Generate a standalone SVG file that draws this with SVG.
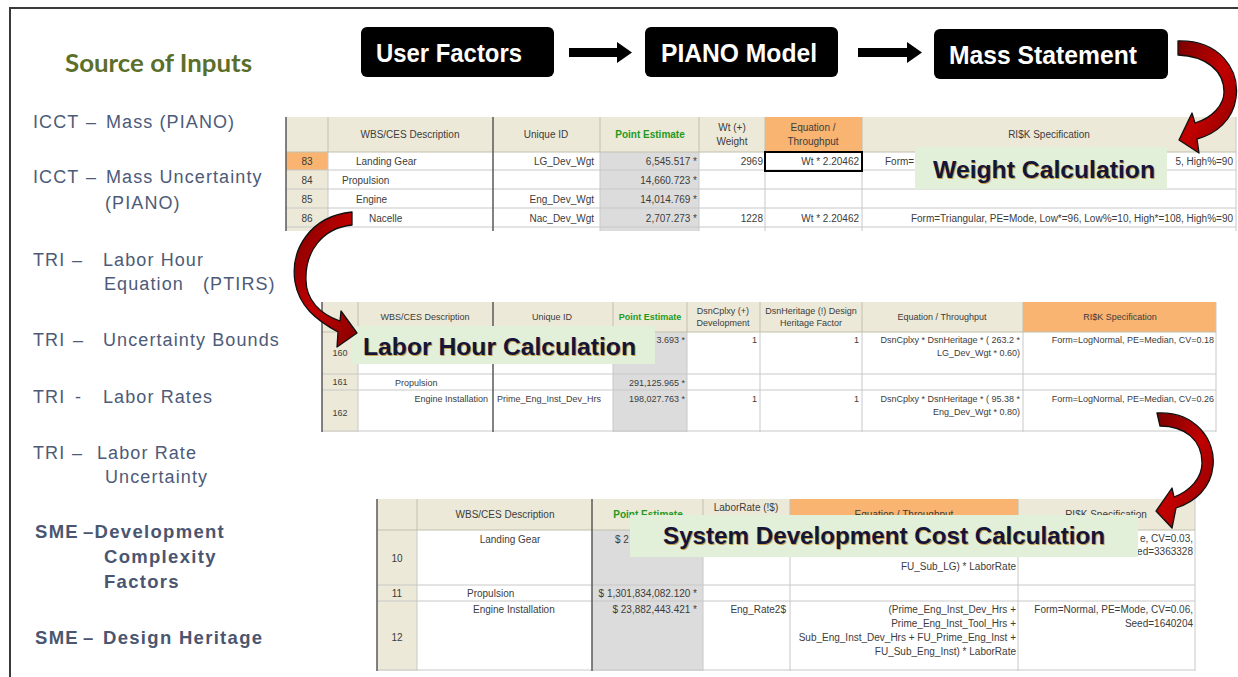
<svg xmlns="http://www.w3.org/2000/svg" width="1238" height="677" viewBox="0 0 1238 677">
  <defs>
    <linearGradient id="redFill" x1="0" y1="0" x2="1" y2="1">
      <stop offset="0" stop-color="#7a0000"/>
      <stop offset="0.5" stop-color="#c20000"/>
      <stop offset="1" stop-color="#860000"/>
    </linearGradient>
    <style>
      .frame { fill: none; stroke: #3a3a3a; stroke-width: 2; }
      .title { font-family: Lato, "Liberation Sans", sans-serif; font-weight: bold; font-size: 24px; fill: #5b6f2a; }
      .src { font-family: "Liberation Sans", Arial, sans-serif; font-size: 18px; fill: #4d5b78; letter-spacing: 1.1px; }
      .srcb { font-family: "Liberation Sans", Arial, sans-serif; font-size: 18.5px; font-weight: bold; fill: #4a5670; letter-spacing: 1.3px; }
      .box { fill: #000; }
      .boxtxt { font-family: "Liberation Sans", Arial, sans-serif; font-weight: bold; font-size: 25px; fill: #fff; }
      .blk { fill: #000; }
      .curve { fill: url(#redFill); stroke: #111; stroke-width: 1.3; stroke-linejoin: round; }
      .hdr { fill: #ece9d8; }
      .org { fill: #f8b470; }
      .cell { fill: #fff; }
      .pe { fill: #dcdcdc; }
      .grid { stroke: #c8c8c8; stroke-width: 1; fill: none; }
      .hgrid { stroke: #c2bfae; stroke-width: 1; fill: none; }
      .dark { stroke: #5a5a5a; stroke-width: 1.5; fill: none; }
      .t10 { font-family: "Liberation Sans", Arial, sans-serif; font-size: 10px; fill: #3c3c3c; }
      .t9 { font-family: "Liberation Sans", Arial, sans-serif; font-size: 9px; fill: #3c3c3c; }
      .grn { fill: #1f9a1f; font-weight: bold; }
      .mid { text-anchor: middle; }
      .end { text-anchor: end; }
      .lbl { fill: #e2efd9; }
      .lbltxt { font-family: "Liberation Sans", Arial, sans-serif; font-weight: bold; font-size: 24px; fill: #15153a; }
      .lblsh { font-family: "Liberation Sans", Arial, sans-serif; font-weight: bold; font-size: 24px; fill: #c9a24a; }
    </style>
  </defs>

  <rect width="1238" height="677" fill="#fff"/>
  <!-- slide frame -->
  <path class="frame" d="M10,677 V8 H1238"/>

  <!-- input source list -->
  <g id="sources">
    <text class="title" x="65" y="72" textLength="187" lengthAdjust="spacingAndGlyphs">Source of Inputs</text>
    <text class="src" y="128"><tspan x="33">ICCT</tspan><tspan x="86">–</tspan><tspan x="106">Mass (PIANO)</tspan></text>
    <text class="src" y="183"><tspan x="33">ICCT</tspan><tspan x="86">–</tspan><tspan x="106">Mass Uncertainty</tspan></text>
    <text class="src" x="105" y="209">(PIANO)</text>
    <text class="src" y="266"><tspan x="33">TRI</tspan><tspan x="72">–</tspan><tspan x="103">Labor Hour</tspan></text>
    <text class="src" y="290"><tspan x="104">Equation</tspan><tspan x="203">(PTIRS)</tspan></text>
    <text class="src" y="346"><tspan x="33">TRI</tspan><tspan x="73">–</tspan><tspan x="103">Uncertainty Bounds</tspan></text>
    <text class="src" y="403"><tspan x="33">TRI</tspan><tspan x="75">-</tspan><tspan x="103">Labor Rates</tspan></text>
    <text class="src" y="459"><tspan x="33">TRI</tspan><tspan x="72">–</tspan><tspan x="97">Labor Rate</tspan></text>
    <text class="src" x="105" y="483">Uncertainty</text>
    <text class="srcb" y="538"><tspan x="35">SME</tspan><tspan x="83">–Development</tspan></text>
    <text class="srcb" x="104" y="563">Complexity</text>
    <text class="srcb" x="104" y="588">Factors</text>
    <text class="srcb" y="644"><tspan x="35">SME</tspan><tspan x="83">–</tspan><tspan x="103">Design Heritage</tspan></text>
  </g>

  <!-- process boxes -->
  <g id="user-factors">
    <rect class="box" x="361" y="27" width="193" height="50" rx="6"/>
    <text class="boxtxt" x="376" y="62" textLength="146" lengthAdjust="spacingAndGlyphs">User Factors</text>
  </g>
  <g id="piano-model">
    <rect class="box" x="645" y="27" width="193" height="50" rx="6"/>
    <text class="boxtxt" x="661" y="62" textLength="156" lengthAdjust="spacingAndGlyphs">PIANO Model</text>
  </g>
  <g id="mass-statement">
    <rect class="box" x="934" y="29" width="234" height="50" rx="6"/>
    <text class="boxtxt" x="949" y="64" textLength="188" lengthAdjust="spacingAndGlyphs">Mass Statement</text>
  </g>

  <!-- weight table -->
  <g id="weight-table">
    <rect class="hdr" x="286" y="117" width="950" height="35"/>
    <rect class="org" x="765" y="117" width="97" height="35"/>
    <rect class="cell" x="328" y="152" width="908" height="79"/>
    <rect class="hdr" x="286" y="152" width="42" height="79"/>
    <rect class="org" x="286" y="152" width="42" height="18"/>
    <rect class="pe" x="600" y="152" width="99" height="79"/>
    <path class="grid" d="M286,170 H1236 M286,189 H1236 M286,208 H1236 M286,227 H1236 M600,152 V231 M699,152 V231 M765,152 V231 M862,152 V231 M328,152 V231 M1236,117 V231"/>
    <path class="hgrid" d="M286,152 H1236 M328,117 V152 M600,117 V152 M699,117 V152 M765,117 V152 M862,117 V152"/>
    <path class="dark" d="M286,117 V231 M493,117 V231"/>
    <rect x="765" y="152" width="97" height="19" fill="none" stroke="#000" stroke-width="2"/>
    <text class="t10 mid" x="410" y="138">WBS/CES Description</text>
    <text class="t10 mid" x="546" y="138">Unique ID</text>
    <text class="t10 mid grn" x="650" y="138">Point Estimate</text>
    <text class="t10 mid" x="732" y="131">Wt (+)</text>
    <text class="t10 mid" x="732" y="145">Weight</text>
    <text class="t10 mid" x="813" y="131">Equation /</text>
    <text class="t10 mid" x="813" y="145">Throughput</text>
    <text class="t10 mid" x="1049" y="138">RI$K Specification</text>
    <text class="t10 mid" x="307" y="165">83</text>
    <text class="t10 mid" x="307" y="184">84</text>
    <text class="t10 mid" x="307" y="203">85</text>
    <text class="t10 mid" x="307" y="222">86</text>
    <text class="t10" x="356" y="165">Landing Gear</text>
    <text class="t10" x="342" y="184">Propulsion</text>
    <text class="t10" x="356" y="203">Engine</text>
    <text class="t10" x="369" y="222">Nacelle</text>
    <text class="t10 end" x="594" y="165">LG_Dev_Wgt</text>
    <text class="t10 end" x="594" y="203">Eng_Dev_Wgt</text>
    <text class="t10 end" x="594" y="222">Nac_Dev_Wgt</text>
    <text class="t10 end" x="697" y="165">6,545.517 *</text>
    <text class="t10 end" x="697" y="184">14,660.723 *</text>
    <text class="t10 end" x="697" y="203">14,014.769 *</text>
    <text class="t10 end" x="697" y="222">2,707.273 *</text>
    <text class="t10 end" x="763" y="165">2969</text>
    <text class="t10 end" x="763" y="222">1228</text>
    <text class="t10 end" x="859" y="165">Wt * 2.20462</text>
    <text class="t10 end" x="859" y="222">Wt * 2.20462</text>
    <text class="t10" x="885" y="165">Form=</text>
    <text class="t10 end" x="1233" y="165">5, High%=90</text>
    <text class="t10 end" x="1233" y="222">Form=Triangular, PE=Mode, Low*=96, Low%=10, High*=108, High%=90</text>
  </g>

  <!-- labor hour table -->
  <g id="labor-hour-table">
    <rect class="hdr" x="322" y="302" width="894" height="30"/>
    <rect class="org" x="1023" y="302" width="193" height="30"/>
    <rect class="cell" x="358" y="332" width="858" height="100"/>
    <rect class="hdr" x="322" y="332" width="36" height="100"/>
    <rect class="pe" x="613" y="332" width="74" height="100"/>
    <path class="grid" d="M322,374 H1216 M322,390 H1216 M322,431 H1216 M358,332 V432 M613,332 V432 M687,332 V432 M760,332 V432 M862,332 V432 M1023,332 V432 M1216,302 V432"/>
    <path class="hgrid" d="M322,332 H1216 M358,302 V332 M613,302 V332 M687,302 V332 M760,302 V332 M862,302 V332 M1023,302 V332"/>
    <path class="dark" d="M322,302 V432 M493,302 V432"/>
    <text class="t9 mid" x="425" y="320">WBS/CES Description</text>
    <text class="t9 mid" x="552" y="320">Unique ID</text>
    <text class="t9 mid grn" x="650" y="320">Point Estimate</text>
    <text class="t9 mid" x="723" y="314">DsnCplxy (+)</text>
    <text class="t9 mid" x="723" y="326">Development</text>
    <text class="t9 mid" x="811" y="314">DsnHeritage (!) Design</text>
    <text class="t9 mid" x="811" y="326">Heritage Factor</text>
    <text class="t9 mid" x="942" y="320">Equation / Throughput</text>
    <text class="t9 mid" x="1120" y="320">RI$K Specification</text>
    <text class="t9 mid" x="340" y="356">160</text>
    <text class="t9 mid" x="340" y="385">161</text>
    <text class="t9 mid" x="340" y="416">162</text>
    <text class="t9 end" x="685" y="343">3.693 *</text>
    <text class="t9 end" x="757" y="343">1</text>
    <text class="t9 end" x="859" y="343">1</text>
    <text class="t9 end" x="1020" y="343">DsnCplxy * DsnHeritage * ( 263.2 *</text>
    <text class="t9 end" x="1020" y="356">LG_Dev_Wgt * 0.60)</text>
    <text class="t9 end" x="1214" y="343">Form=LogNormal, PE=Median, CV=0.18</text>
    <text class="t9" x="395" y="386">Propulsion</text>
    <text class="t9 end" x="685" y="386">291,125.965 *</text>
    <text class="t9 end" x="488" y="402">Engine Installation</text>
    <text class="t9" x="497" y="402">Prime_Eng_Inst_Dev_Hrs</text>
    <text class="t9 end" x="685" y="402">198,027.763 *</text>
    <text class="t9 end" x="757" y="402">1</text>
    <text class="t9 end" x="859" y="402">1</text>
    <text class="t9 end" x="1020" y="402">DsnCplxy * DsnHeritage * ( 95.38 *</text>
    <text class="t9 end" x="1020" y="415">Eng_Dev_Wgt * 0.80)</text>
    <text class="t9 end" x="1214" y="402">Form=LogNormal, PE=Median, CV=0.26</text>
  </g>

  <!-- development cost table -->
  <g id="cost-table">
    <rect class="hdr" x="377" y="499" width="818" height="31"/>
    <rect class="org" x="790" y="499" width="228" height="31"/>
    <rect class="cell" x="417" y="530" width="778" height="141"/>
    <rect class="hdr" x="377" y="530" width="40" height="141"/>
    <rect class="pe" x="592" y="530" width="111" height="141"/>
    <path class="grid" d="M377,585 H1195 M377,601 H1195 M377,670 H1195 M417,530 V671 M703,530 V671 M790,530 V671 M1018,530 V671 M1195,499 V671"/>
    <path class="hgrid" d="M377,530 H1195 M417,499 V530 M703,499 V530 M790,499 V530 M1018,499 V530"/>
    <path class="dark" d="M377,499 V671 M592,499 V671"/>
    <text class="t10 mid" x="505" y="518">WBS/CES Description</text>
    <text class="t10 mid grn" x="648" y="518">Point Estimate</text>
    <text class="t10 mid" x="746" y="511">LaborRate (!$)</text>
    <text class="t10 mid" x="904" y="518">Equation / Throughput</text>
    <text class="t10 mid" x="1106" y="518">RI$K Specification</text>
    <text class="t10 mid" x="397" y="562">10</text>
    <text class="t10 mid" x="397" y="597">11</text>
    <text class="t10 mid" x="397" y="641">12</text>
    <text class="t10 mid" x="510" y="543">Landing Gear</text>
    <text class="t10" x="615" y="543">$ 2</text>
    <text class="t10 end" x="1016" y="570">FU_Sub_LG) * LaborRate</text>
    <text class="t10 end" x="1193" y="542">e, CV=0.03,</text>
    <text class="t10 end" x="1193" y="555">ed=3363328</text>
    <text class="t10" x="467" y="597">Propulsion</text>
    <text class="t10 end" x="697" y="597">$ 1,301,834,082.120 *</text>
    <text class="t10" x="473" y="613">Engine Installation</text>
    <text class="t10 end" x="697" y="613">$ 23,882,443.421 *</text>
    <text class="t10 end" x="786" y="613">Eng_Rate2$</text>
    <text class="t10 end" x="1016" y="613">(Prime_Eng_Inst_Dev_Hrs +</text>
    <text class="t10 end" x="1016" y="627">Prime_Eng_Inst_Tool_Hrs +</text>
    <text class="t10 end" x="1016" y="641">Sub_Eng_Inst_Dev_Hrs  + FU_Prime_Eng_Inst +</text>
    <text class="t10 end" x="1016" y="655">FU_Sub_Eng_Inst) * LaborRate</text>
    <text class="t10 end" x="1193" y="613">Form=Normal, PE=Mode, CV=0.06,</text>
    <text class="t10 end" x="1193" y="627">Seed=1640204</text>
  </g>

  <!-- callout labels -->
  <g id="weight-label">
    <rect class="lbl" x="915" y="147" width="252" height="42"/>
    <text class="lblsh" x="934" y="179" textLength="222" lengthAdjust="spacingAndGlyphs">Weight  Calculation</text>
    <text class="lbltxt" x="933" y="178" textLength="222" lengthAdjust="spacingAndGlyphs">Weight  Calculation</text>
  </g>
  <g id="labor-hour-label">
    <rect class="lbl" x="352" y="326" width="303" height="38"/>
    <text class="lblsh" x="364" y="356" textLength="273" lengthAdjust="spacingAndGlyphs">Labor Hour Calculation</text>
    <text class="lbltxt" x="363" y="355" textLength="273" lengthAdjust="spacingAndGlyphs">Labor Hour Calculation</text>
  </g>
  <g id="cost-label">
    <rect class="lbl" x="630" y="515" width="508" height="42"/>
    <text class="lblsh" x="664" y="545" textLength="442" lengthAdjust="spacingAndGlyphs">System Development Cost Calculation</text>
    <text class="lbltxt" x="663" y="544" textLength="442" lengthAdjust="spacingAndGlyphs">System Development Cost Calculation</text>
  </g>

  <!-- connectors -->
  <g id="connectors">
    <path class="blk" d="M569,48 H617 V42 L632,52.5 L617,63 V57 H569 Z"/>
    <path class="blk" d="M858,48 H907 V42 L922,52.5 L907,63 V57 H858 Z"/>
    <path class="curve" d="M1178,41 C1220,40 1240,70 1236,98 C1233,120 1216,134 1197,139 L1199,153 L1179,140 L1192,113 L1195,123 C1212,118 1224,105 1224,92 C1224,70 1205,56 1178,55 Z"/>
    <path class="curve" d="M352,212 C310,216 290,250 295,282 C299,306 316,320 338,332 L337,347 L357,333 L341,311 L340,321 C320,314 306,300 306,280 C305,252 322,228 352,225 Z"/>
    <path class="curve" d="M1157,413 C1195,411 1216,440 1213,466 C1211,488 1195,502 1176,508 L1172,528 L1156,511 L1172,488 L1174,497 C1190,491 1202,478 1202,463 C1202,440 1185,426 1160,426 Z"/>
  </g>
</svg>
